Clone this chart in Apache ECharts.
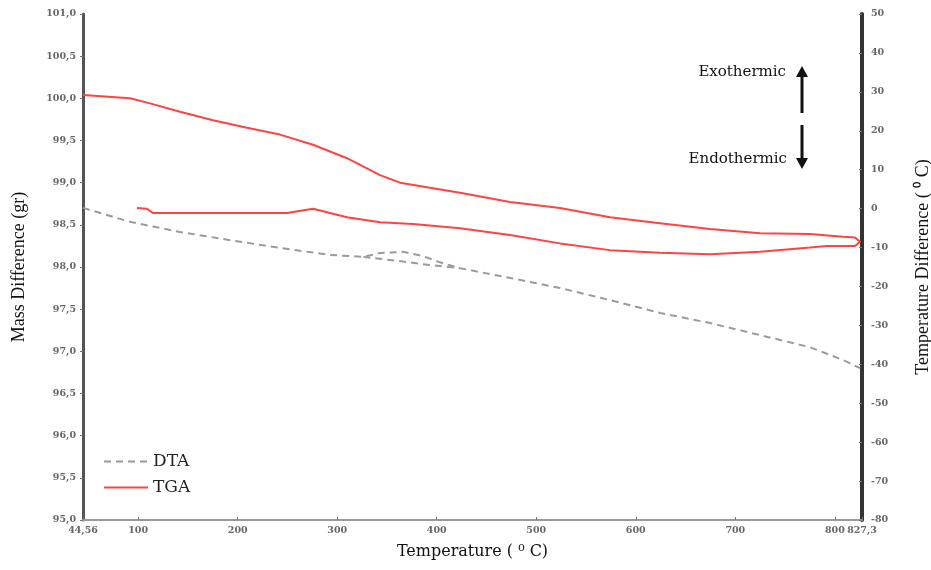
<!DOCTYPE html>
<html>
<head>
<meta charset="utf-8">
<script src="https://cdn.jsdelivr.net/npm/echarts@6/dist/echarts.min.js"></script>
<style>
  html, body { margin: 0; padding: 0; background: #fff; }
  #chart { width: 931px; height: 570px; }
</style>
</head>
<body>
<div id="chart"></div>
<script>
// TGA (mass, left axis) - heating branch then return branch
const tgaTemp = [44.56, 91.8, 111.9, 142.0, 175.2, 209.4, 242.5, 275.7, 309.8, 343.0, 363.1, 393.2, 423.4, 473.6, 523.9, 574.1, 624.3, 674.6, 724.8, 775.0, 808.2, 820.3, 825.3,
  820.3, 792.1, 775.0, 724.8, 674.6, 624.3, 574.1, 523.9, 473.6, 423.4, 376.2, 343.0, 309.8, 275.7, 249.5, 209.4, 142.0, 114.9, 108.9, 98.8];
const tgaMass = [100.04, 100.0, 99.94, 99.84, 99.74, 99.65, 99.57, 99.45, 99.29, 99.09, 99.0, 98.94, 98.88, 98.77, 98.70, 98.59, 98.52, 98.45, 98.40, 98.39, 98.36, 98.35, 98.30,
  98.25, 98.25, 98.23, 98.18, 98.15, 98.17, 98.20, 98.28, 98.38, 98.46, 98.51, 98.53, 98.59, 98.69, 98.64, 98.64, 98.64, 98.64, 98.69, 98.70];

// DTA (temperature difference, right axis)
const dtaTemp = [44.56, 91.8, 142.0, 192.3, 242.5, 292.8, 326.3, 343.0, 366.1, 386.2, 403.3, 423.4, 473.6, 523.9, 574.1, 624.3, 674.6, 724.8, 775.0, 808.2, 825.3];
const dtaDiff = [0.2, -3.4, -6.0, -8.1, -10.1, -11.9, -12.4, -11.4, -11.1, -12.2, -13.8, -15.3, -17.8, -20.4, -23.5, -26.8, -29.4, -32.5, -35.6, -38.9, -41.0];
// straight part of DTA under the small bump
const dtaLowTemp = [326.3, 360.0, 393.2, 423.4];
const dtaLowDiff = [-12.4, -13.4, -14.5, -15.3];

const xTicks = [44.56, 100, 200, 300, 400, 500, 600, 700, 800, 827.3];

const zip = (a, b) => a.map((v, i) => [v, b[i]]);
const comma = (v) => String(v).replace('.', ',');
const serif = 'Liberation Serif';
const wide = 'DejaVu Serif';

const chart = echarts.init(document.getElementById('chart'));

const dtaStyle = { color: '#9a9aa2', width: 2, type: [7, 5] };
const tgaStyle = { color: '#ff4343', width: 2 };
const tickFont = { fontFamily: wide, fontSize: 9.5, fontWeight: 'bold', color: '#666' };

chart.setOption({
  animation: false,
  backgroundColor: '#fff',
  grid: { left: 83, right: 69, top: 14, bottom: 50, outerBoundsMode: 'none' },
  legend: {
    orient: 'vertical',
    left: 98,
    top: 448,
    itemWidth: 44,
    itemHeight: 14,
    itemGap: 9,
    data: ['DTA', 'TGA'],
    itemStyle: { opacity: 0 },
    textStyle: { fontFamily: wide, fontSize: 17, color: '#222' }
  },
  xAxis: {
    type: 'value',
    min: 44.56,
    max: 827.3,
    name: 'Temperature ( \u2070 C)',
    nameLocation: 'middle',
    nameGap: 24,
    nameTextStyle: { fontFamily: wide, fontSize: 16, color: '#111' },
    axisLine: { onZero: false, lineStyle: { color: '#999', width: 2 } },
    axisTick: { inside: true, length: 3, lineStyle: { color: '#777' }, customValues: xTicks },
    axisLabel: Object.assign({ customValues: xTicks, margin: 6, formatter: comma }, tickFont),
    splitLine: { show: false }
  },
  yAxis: [{
    type: 'value',
    min: 95,
    max: 101,
    interval: 0.5,
    name: 'Mass Difference (gr)',
    nameLocation: 'middle',
    nameRotate: 90,
    nameGap: 55,
    nameTextStyle: { fontFamily: serif, fontSize: 18, color: '#111' },
    axisLine: { show: true, onZero: false, lineStyle: { color: '#555', width: 3 } },
    axisTick: { show: true, length: 3, lineStyle: { color: '#777' } },
    axisLabel: Object.assign({ margin: 7, formatter: (v) => v.toFixed(1).replace('.', ',') }, tickFont),
    splitLine: { show: false }
  }, {
    type: 'value',
    position: 'right',
    min: -80,
    max: 50,
    interval: 10,
    name: 'Temperature Difference ( \u2070 C)',
    nameLocation: 'middle',
    nameRotate: 90,
    nameGap: 52,
    nameTextStyle: { fontFamily: serif, fontSize: 18, color: '#111' },
    axisLine: { show: true, onZero: false, lineStyle: { color: '#333', width: 4 } },
    axisTick: { show: true, inside: true, length: 3, lineStyle: { color: '#777' } },
    axisLabel: Object.assign({ margin: 9 }, tickFont),
    splitLine: { show: false }
  }],
  series: [{
    name: 'DTA',
    type: 'line',
    yAxisIndex: 1,
    symbol: 'none',
    data: zip(dtaTemp, dtaDiff),
    lineStyle: dtaStyle,
    itemStyle: { color: '#9a9aa2' }
  }, {
    name: 'DTA',
    type: 'line',
    yAxisIndex: 1,
    symbol: 'none',
    data: zip(dtaLowTemp, dtaLowDiff),
    lineStyle: dtaStyle,
    itemStyle: { color: '#9a9aa2' }
  }, {
    name: 'TGA',
    type: 'line',
    yAxisIndex: 0,
    symbol: 'none',
    data: zip(tgaTemp, tgaMass),
    lineStyle: tgaStyle,
    itemStyle: { color: '#ff4343' }
  }],
  graphic: [
    { type: 'text', right: 931 - 786, top: 65, style: { text: 'Exothermic', font: '15px ' + wide, fill: '#111' } },
    { type: 'text', right: 931 - 787, top: 152, style: { text: 'Endothermic', font: '15px ' + wide, fill: '#111' } },
    { type: 'line', shape: { x1: 802, y1: 113, x2: 802, y2: 74 }, style: { stroke: '#111', lineWidth: 3 } },
    { type: 'polygon', shape: { points: [[796, 77], [808, 77], [802, 66]] }, style: { fill: '#111' } },
    { type: 'line', shape: { x1: 802, y1: 125, x2: 802, y2: 160 }, style: { stroke: '#111', lineWidth: 3 } },
    { type: 'polygon', shape: { points: [[796, 158], [808, 158], [802, 169]] }, style: { fill: '#111' } }
  ]
});
</script>
</body>
</html>
